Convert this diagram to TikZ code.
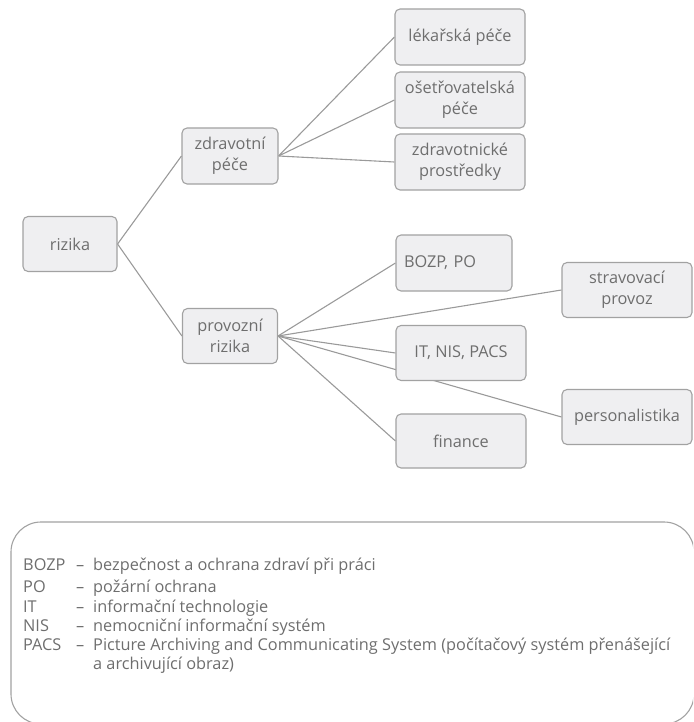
\documentclass[tikz,border=0pt]{standalone}
\usepackage{fontspec}
\setmainfont{Open Sans}
\usetikzlibrary{backgrounds}
\definecolor{boxfill}{HTML}{EFEFF1}
\definecolor{boxline}{HTML}{A2A2A2}
\definecolor{edgecol}{HTML}{9A9A9A}
\definecolor{txt}{HTML}{6E6E6E}
\tikzset{
  nodebox/.style={draw=boxline, fill=boxfill, line width=1.1pt, rounded corners=5pt,
    text=txt, font=\fontsize{16.3}{21}\selectfont, align=center, inner sep=2pt, anchor=center},
  conn/.style={draw=edgecol, line width=1.1pt},
  legtext/.style={text=txt, font=\fontsize{16.3}{19}\selectfont, anchor=base west, inner sep=0pt},
}
\begin{document}
\begin{tikzpicture}[x=1pt,y=-1pt]
\useasboundingbox (0,0) rectangle (693,722);
\clip (0,0) rectangle (693,722);
% nodes
\node[nodebox, minimum width=94pt, minimum height=55pt] (riz) at (70,244) {rizika};
\node[nodebox, minimum width=96pt, minimum height=56pt] (zdr) at (230,156) {zdravotní\\péče};
\node[nodebox, minimum width=95pt, minimum height=55pt] (pro) at (230,336) {provozní\\rizika};
\node[nodebox, minimum width=130pt, minimum height=56pt] (lek) at (460,37) {lékařská péče};
\node[nodebox, minimum width=130pt, minimum height=56pt] (ose) at (460,100) {ošetřovatelská\\péče};
\node[nodebox, minimum width=130pt, minimum height=56pt] (zpr) at (460,162) {zdravotnické\\prostředky};
\node[nodebox, minimum height=56pt, text width=100pt, inner xsep=8pt, align=left] (boz) at (454,263) {BOZP, PO};
\node[nodebox, minimum width=130pt, minimum height=55pt] (str) at (627,290) {stravovací\\provoz};
\node[nodebox, minimum width=130pt, minimum height=55pt] (itn) at (461,353) {IT, NIS, PACS};
\node[nodebox, minimum width=130pt, minimum height=55pt] (per) at (627,417) {personalistika};
\node[nodebox, minimum width=130pt, minimum height=54pt] (fin) at (461,441) {finance};
% connectors (behind boxes)
\begin{scope}[on background layer]
\path[conn] (riz.east) -- (zdr.west);
\path[conn] (riz.east) -- (pro.west);
\path[conn] (zdr.east) -- (lek.west);
\path[conn] (zdr.east) -- (ose.west);
\path[conn] (zdr.east) -- (zpr.west);
\path[conn] (pro.east) -- (boz.west);
\path[conn] (pro.east) -- (str.west);
\path[conn] (pro.east) -- (itn.west);
\path[conn] (pro.east) -- (fin.west);
\path[conn] (pro.east) -- (per.west);
\end{scope}
% legend
\draw[draw=boxline, line width=1.1pt, rounded corners=30pt] (11,522) rectangle (694,724);
\node[legtext] (la1) at (23,570) {BOZP};
\node[legtext] (ld1) at (76,570) {–};
\node[legtext] (lt1) at (93,570) {bezpečnost a ochrana zdraví při práci};
\node[legtext] (la2) at (23,592) {PO};
\node[legtext] (ld2) at (76,592) {–};
\node[legtext] (lt2) at (93,592) {požární ochrana};
\node[legtext] (la3) at (23,612) {IT};
\node[legtext] (ld3) at (76,612) {–};
\node[legtext] (lt3) at (93,612) {informační technologie};
\node[legtext] (la4) at (23,631) {NIS};
\node[legtext] (ld4) at (76,631) {–};
\node[legtext] (lt4) at (93,631) {nemocniční informační systém};
\node[legtext] (la5) at (23,650) {PACS};
\node[legtext] (ld5) at (76,650) {–};
\node[legtext] (lt5) at (93,650) {Picture Archiving and Communicating System (počítačový systém přenášející};
\node[legtext] (lt6) at (93,669) {a archivující obraz)};
\end{tikzpicture}
\end{document}
